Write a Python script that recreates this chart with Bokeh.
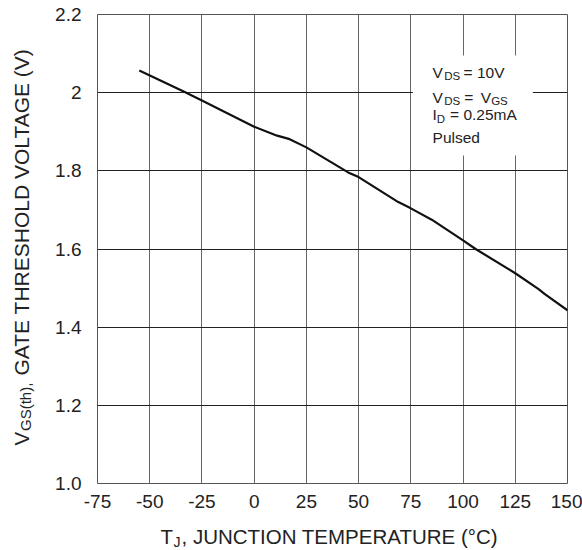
import math
from bokeh.plotting import figure
from bokeh.layouts import row, column
from bokeh.models import Range1d, FixedTicker, Label, BoxAnnotation
from bokeh.embed import file_html
from bokeh.resources import INLINE

# ---- data ----
temp_c = [-55, -33, -25, 0, 11, 17, 25, 45, 50, 69, 75, 85, 100, 106, 125, 136, 139, 150]
vgs_th = [2.057, 2.001, 1.980, 1.913, 1.890, 1.881, 1.860, 1.796, 1.784, 1.720, 1.704,
          1.675, 1.622, 1.600, 1.538, 1.498, 1.485, 1.443]
x_ticks = [-75, -50, -25, 0, 25, 50, 75, 100, 125, 150]
x_tick_labels = ["-75", "-50", "-25", "0", "25", "50", "75", "100", "125", "150"]
y_ticks = [1.0, 1.2, 1.4, 1.6, 1.8, 2.0, 2.2]
y_tick_labels = ["1.0", "1.2", "1.4", "1.6", "1.8", "2", "2.2"]

FONT = "Liberation Sans"
TXT = "#222222"

# ---- main chart ----
p = figure(width=542, height=520, output_backend="svg", toolbar_location=None,
           x_range=Range1d(-75, 150), y_range=Range1d(1.0, 2.2),
           min_border_left=57, min_border_right=15, min_border_top=14, min_border_bottom=37)
p.background_fill_color = "white"
p.border_fill_color = "white"
p.outline_line_color = "#555555"
p.outline_line_width = 1

p.xaxis.ticker = FixedTicker(ticks=x_ticks)
p.yaxis.ticker = FixedTicker(ticks=y_ticks)
p.xaxis.major_label_overrides = {t: l for t, l in zip(x_ticks, x_tick_labels)}
p.yaxis.major_label_overrides = {t: l for t, l in zip(y_ticks, y_tick_labels)}
for ax in (p.xaxis, p.yaxis):
    ax.axis_line_color = None
    ax.major_tick_line_color = None
    ax.minor_tick_line_color = None
    ax.major_tick_in = 0
    ax.major_tick_out = 0
    ax.major_label_text_font = FONT
    ax.major_label_text_font_size = "19px"
    ax.major_label_text_color = TXT
p.xaxis.major_label_standoff = 11
p.yaxis.major_label_standoff = 16

p.xgrid.ticker = FixedTicker(ticks=x_ticks)
p.ygrid.ticker = FixedTicker(ticks=y_ticks)
p.xgrid.grid_line_color = "#666666"
p.xgrid.grid_line_width = 1
p.ygrid.grid_line_color = "#222222"
p.ygrid.grid_line_width = 1

p.line(temp_c, vgs_th, line_color="#111111", line_width=2.2)


def lab(fig, x, y, text, size, xo=0, yo=0, angle=0.0):
    fig.add_layout(Label(x=x, y=y, text=text, x_offset=xo, y_offset=yo,
                         text_font=FONT, text_font_size=size, text_color=TXT,
                         text_baseline="alphabetic", text_align="left", angle=angle))


# white box behind the conditions text
p.add_layout(BoxAnnotation(left=76, right=133.4, top=2.095, bottom=1.839,
                           fill_color="white", fill_alpha=1.0, line_color=None))

# conditions text
ax0, ay0 = 85.4, 2.051
big, sub = "15.5px", "11.5px"
lab(p, ax0, ay0, "V", big)
lab(p, ax0, ay0, "DS", sub, xo=11.6, yo=-3.5)
lab(p, ax0, ay0, "= 10V", big, xo=31)
lab(p, ax0, ay0, "V", big, yo=-25)
lab(p, ax0, ay0, "DS", sub, xo=11.6, yo=-28.5)
lab(p, ax0, ay0, "=", big, xo=31.6, yo=-25)
lab(p, ax0, ay0, "V", big, xo=48.3, yo=-25)
lab(p, ax0, ay0, "GS", sub, xo=58.6, yo=-28.5)
lab(p, ax0, ay0, "I", big, yo=-42)
lab(p, ax0, ay0, "D", sub, xo=4.2, yo=-46)
lab(p, ax0, ay0, "= 0.25mA", big, xo=17.5, yo=-42)
lab(p, ax0, ay0, "Pulsed", big, yo=-64.5)


def blank(w, h, left=0, right=0):
    f = figure(width=w, height=h, output_backend="svg", toolbar_location=None, title=None,
               x_range=Range1d(0, w - left - right), y_range=Range1d(0, h),
               min_border_left=left, min_border_right=right,
               min_border_top=0, min_border_bottom=0,
               x_axis_location=None, y_axis_location=None)
    f.outline_line_color = None
    f.grid.grid_line_color = None
    f.background_fill_color = "white"
    f.border_fill_color = "white"
    return f


# ---- y axis title strip (pixel coords, y up) ----
yt = blank(40, 550)
rot = math.pi / 2
lab(yt, 20.7, 105, "V", "20.5px", angle=rot)
lab(yt, 24.7, 119.5, "GS(th),", "15px", angle=rot)
lab(yt, 20.7, 175, "GATE THRESHOLD VOLTAGE (V)", "21px", angle=rot)

# ---- x axis title strip (x measured from the plot frame's left edge) ----
xt = blank(542, 30, left=57, right=15)
lab(xt, 63, 14.3, "T", "20.5px")
lab(xt, 76, 8.3, "J", "14px")
lab(xt, 84, 14.3, ", JUNCTION TEMPERATURE (°C)", "20.5px")

layout = row(yt, column(p, xt, spacing=0), spacing=0)
open("out.html", "w").write(file_html(layout, INLINE))
